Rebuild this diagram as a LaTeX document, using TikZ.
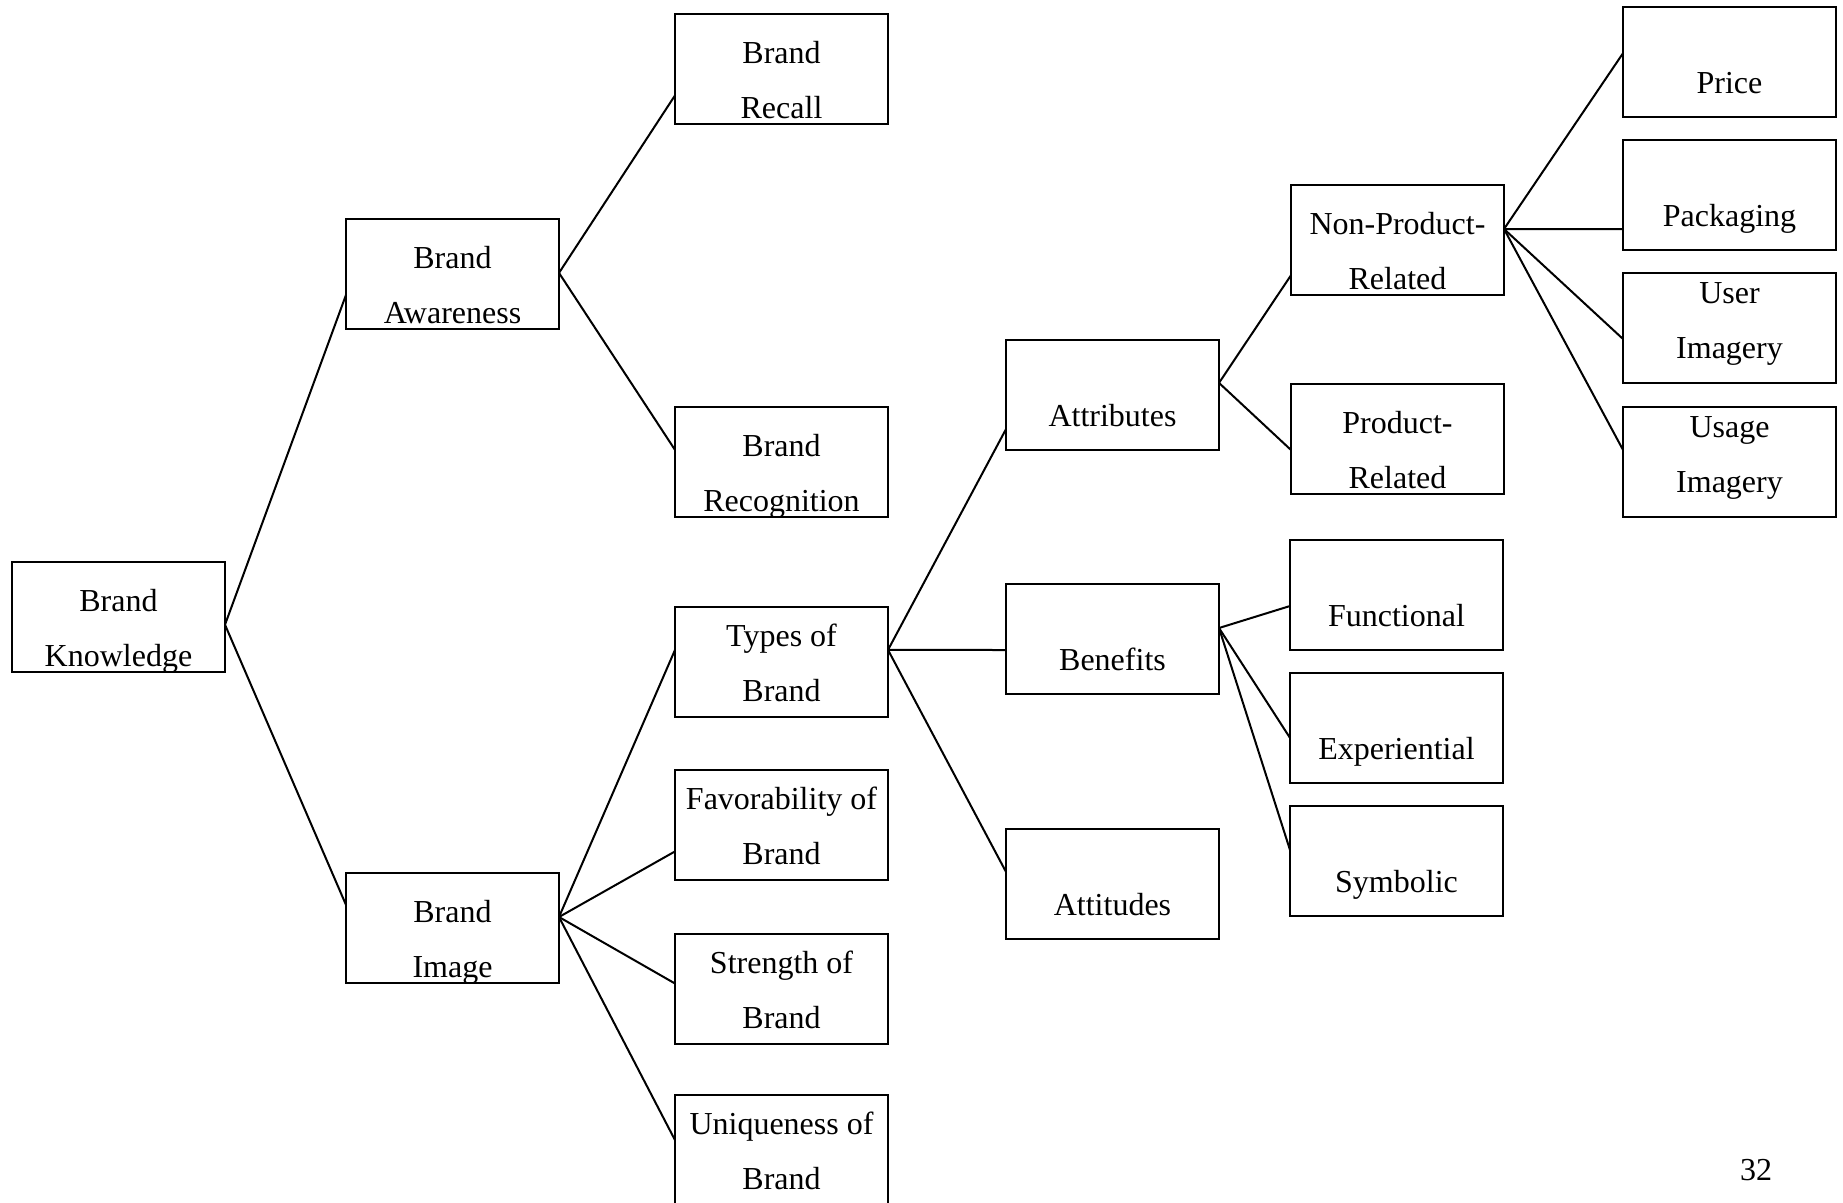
\documentclass[tikz,border=0pt]{standalone}
\usepackage{fontspec}
\setmainfont{Liberation Serif}
\usetikzlibrary{calc}

% box: top-left corner given; caption lines placed by baseline offset from the top edge
\tikzset{
  bx/.style={draw, line width=2.4pt, minimum width=213pt, minimum height=110pt,
             inner sep=0pt, outer sep=0pt, anchor=north west},
  tx/.style={inner sep=0pt, anchor=base, font=\fontsize{32}{38}\selectfont},
  ln/.style={line width=2pt}
}
% one-line box: name, x, y, baseline offset, text
\newcommand\boxone[5]{%
  \node[bx] (#1) at (#2,#3) {};
  \begin{scope}
    \clip (#1.north west) rectangle (#1.south east);
    \node[tx] (#1-a) at ([yshift=-#4pt]#1.north) {#5};
  \end{scope}}
% two-line box: name, x, y, first baseline offset, line 1, line 2
\newcommand\boxtwo[6]{%
  \node[bx] (#1) at (#2,#3) {};
  \begin{scope}
    \clip (#1.north west) rectangle (#1.south east);
    \node[tx] (#1-a) at ([yshift=-#4pt]#1.north) {#5};
    \node[tx] (#1-b) at ([yshift=-#4pt-55pt]#1.north) {#6};
  \end{scope}}
% connector from a point on the right side of one box to the left side of another
\newcommand\conn[4]{%
  \draw[ln] ($(#1.north east)!#2!(#1.south east)$) -- ($(#3.north west)!#4!(#3.south west)$);}

\begin{document}
\begin{tikzpicture}[x=1pt,y=-1pt]
\useasboundingbox (0,0) rectangle (1843,1202);

% level 0 and 1
\boxtwo{kn}{12}{562}{49}{Brand}{Knowledge}
\boxtwo{aw}{346}{219}{49}{Brand}{Awareness}
\boxtwo{im}{346}{873}{49}{Brand}{Image}

% level 2
\boxtwo{rc}{675}{14}{49}{Brand}{Recall}
\boxtwo{rg}{675}{407}{49}{Brand}{Recognition}
\boxtwo{ty}{675}{607}{39}{Types of}{Brand}
\boxtwo{fa}{675}{770}{39}{Favorability of}{Brand}
\boxtwo{st}{675}{934}{39}{Strength of}{Brand}
\boxtwo{un}{675}{1095}{39}{Uniqueness of}{Brand}

% level 3
\boxone{at}{1006}{340}{86}{Attributes}
\boxone{be}{1006}{584}{86}{Benefits}
\boxone{att}{1006}{829}{86}{Attitudes}

% level 4
\boxtwo{np}{1291}{185}{49}{Non-Product-}{Related}
\boxtwo{pr}{1291}{384}{49}{Product-}{Related}
\boxone{fu}{1290}{540}{86}{Functional}
\boxone{ex}{1290}{673}{86}{Experiential}
\boxone{sy}{1290}{806}{86}{Symbolic}

% level 5
\boxone{pc}{1623}{7}{86}{Price}
\boxone{pk}{1623}{140}{86}{Packaging}
\boxtwo{us}{1623}{273}{30}{User}{Imagery}
\boxtwo{ug}{1623}{407}{30}{Usage}{Imagery}

% connectors
\conn{kn}{0.57}{aw}{0.69}
\conn{kn}{0.57}{im}{0.29}
\conn{aw}{0.49}{rc}{0.74}
\conn{aw}{0.49}{rg}{0.39}
\conn{im}{0.40}{ty}{0.39}
\conn{im}{0.40}{fa}{0.74}
\conn{im}{0.40}{st}{0.45}
\conn{im}{0.40}{un}{0.41}
\conn{ty}{0.39}{at}{0.81}
\conn{ty}{0.39}{be}{0.60}
\conn{ty}{0.39}{att}{0.39}
\conn{at}{0.39}{np}{0.82}
\conn{at}{0.39}{pr}{0.60}
\conn{np}{0.40}{pc}{0.42}
\conn{np}{0.40}{pk}{0.81}
\conn{np}{0.40}{us}{0.60}
\conn{np}{0.40}{ug}{0.39}
\conn{be}{0.40}{fu}{0.60}
\conn{be}{0.40}{ex}{0.59}
\conn{be}{0.40}{sy}{0.40}

% page number
\node[tx] (pgno) at (1756,1180) {32};
\end{tikzpicture}
\end{document}
